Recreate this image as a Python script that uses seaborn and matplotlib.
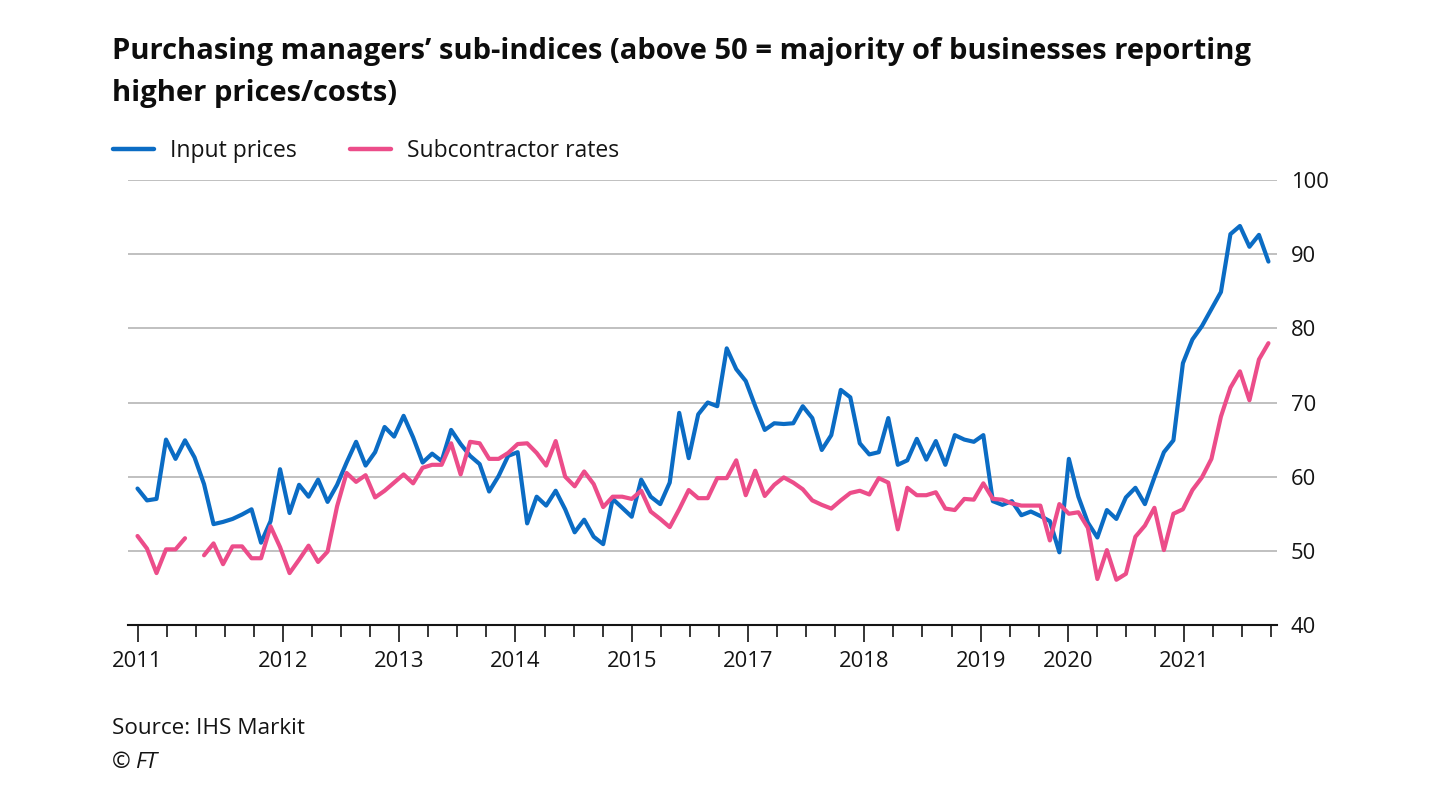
import numpy as np
import pandas as pd
import matplotlib
matplotlib.use("Agg")
import matplotlib.pyplot as plt
import seaborn as sns

# monthly readings, Jan 2011 onwards (index = month number)
input_prices = [
    58.4, 56.8, 57.0, 65.0, 62.4, 64.9, 62.6, 59.0, 53.6, 53.9,
    54.3, 54.9, 55.6, 51.1, 54.0, 61.0, 55.1, 58.9, 57.3, 59.6,
    56.6, 58.9, 61.9, 64.7, 61.5, 63.3, 66.7, 65.4, 68.2, 65.3,
    61.9, 63.1, 62.1, 66.3, 64.4, 62.8, 61.7, 58.0, 60.1, 62.8,
    63.3, 53.7, 57.3, 56.1, 58.1, 55.6, 52.5, 54.2, 51.9, 50.9,
    57.0, 55.8, 54.6, 59.6, 57.3, 56.3, 59.2, 68.6, 62.5, 68.4,
    70.0, 69.5, 77.3, 74.5, 72.9, 69.5, 66.3, 67.2, 67.1, 67.2,
    69.5, 67.9, 63.6, 65.6, 71.7, 70.7, 64.5, 63.0, 63.3, 67.9,
    61.6, 62.2, 65.1, 62.3, 64.8, 61.6, 65.6, 65.0, 64.7, 65.6,
    56.7, 56.2, 56.7, 54.8, 55.3, 54.7, 54.0, 49.8, 62.4, 57.3,
    53.8, 51.8, 55.5, 54.3, 57.2, 58.5, 56.3, 59.9, 63.3, 64.9,
    75.3, 78.5, 80.3, 82.6, 84.9, 92.7, 93.8, 91.0, 92.6, 89.0,
]
subcontractor_rates = [
    52.0, 50.3, 47.0, 50.2, 50.2, 51.7, np.nan, 49.4, 51.0, 48.2,
    50.6, 50.6, 49.0, 49.0, 53.3, 50.5, 47.0, 48.8, 50.7, 48.5,
    49.9, 56.0, 60.5, 59.3, 60.2, 57.2, 58.1, 59.2, 60.3, 59.1,
    61.2, 61.6, 61.6, 64.5, 60.3, 64.7, 64.5, 62.4, 62.4, 63.2,
    64.4, 64.5, 63.2, 61.5, 64.8, 60.0, 58.7, 60.7, 59.0, 55.9,
    57.3, 57.3, 57.0, 58.1, 55.3, 54.3, 53.2, 55.6, 58.2, 57.1,
    57.1, 59.8, 59.8, 62.2, 57.5, 60.8, 57.4, 58.9, 59.9, 59.2,
    58.3, 56.8, 56.2, 55.7, 56.8, 57.8, 58.1, 57.6, 59.8, 59.2,
    52.9, 58.5, 57.5, 57.5, 57.9, 55.7, 55.5, 57.0, 56.9, 59.1,
    57.0, 56.9, 56.4, 56.1, 56.1, 56.1, 51.4, 56.3, 55.0, 55.2,
    53.1, 46.2, 50.1, 46.1, 46.9, 51.9, 53.4, 55.8, 50.1, 55.0,
    55.6, 58.2, 59.9, 62.4, 68.1, 72.0, 74.2, 70.3, 75.8, 78.0,
]
# quarterly ticks along the axis, only some carry a year label
tick_labels = ["2011", "", "", "", "", "2012", "", "", "", "2013",
               "", "", "", "2014", "", "", "", "2015", "", "",
               "", "2017", "", "", "", "2018", "", "", "", "2019",
               "", "", "2020", "", "", "", "2021", "", "", ""]
y_ticks = [40, 50, 60, 70, 80, 90, 100]

blue = "#0b6cc4"
pink = "#ec4d8a"
ink = "#141414"

month = np.arange(len(input_prices))
df = pd.DataFrame({"month": month, "Input prices": input_prices,
                   "Subcontractor rates": subcontractor_rates})
long = df.melt(id_vars="month", var_name="series", value_name="value")
# break the line wherever a value is missing
long["seg"] = long.groupby("series")["value"].transform(lambda s: s.isna().cumsum())
long = long.dropna()

sns.set_theme(style="white")
plt.rcParams["font.family"] = ["Open Sans", "DejaVu Sans"]

fig = plt.figure(figsize=(14.4, 8.09), dpi=100)
ax = fig.add_axes([128 / 1440, 1 - 625 / 809, (1277 - 128) / 1440, (625 - 180) / 809])

sns.lineplot(data=long, x="month", y="value", hue="series", units="seg",
             estimator=None, palette={"Input prices": blue, "Subcontractor rates": pink},
             linewidth=3.0, ax=ax, legend=False)

ax.set_xlim(-1.0, 119.9)
ax.set_ylim(40, 100)

step = 119.3 / (len(tick_labels) - 1)
tick_pos = np.arange(len(tick_labels)) * step
major = [p for p, l in zip(tick_pos, tick_labels) if l]
minor = [p for p, l in zip(tick_pos, tick_labels) if not l]
ax.set_xticks(major)
ax.set_xticklabels([l for l in tick_labels if l], fontsize=15.8, color=ink)
ax.set_xticks(minor, minor=True)
ax.tick_params(axis="x", which="major", direction="out", length=12, width=1.2,
               color=ink, pad=7, bottom=True)
ax.tick_params(axis="x", which="minor", direction="out", length=8.5, width=1.2,
               color=ink, bottom=True)

ax.yaxis.tick_right()
ax.set_yticks(y_ticks)
ax.set_yticklabels([str(v) for v in y_ticks], fontsize=15.8, color=ink)
ax.tick_params(axis="y", length=0, pad=10)
for v in y_ticks[1:]:
    ax.axhline(v, color="#b5b5b5", linewidth=1.2, zorder=0)

for s in ["top", "left", "right"]:
    ax.spines[s].set_visible(False)
ax.spines["bottom"].set_color(ink)
ax.spines["bottom"].set_linewidth(1.5)
ax.set_xlabel("")
ax.set_ylabel("")

fig.text(112 / 1440, 1 - 51 / 809,
         "Purchasing managers\u2019 sub-indices (above 50 = majority of businesses reporting",
         fontsize=21, fontweight="bold", va="center", color="#0d0d0d")
fig.text(112 / 1440, 1 - 93 / 809, "higher prices/costs)",
         fontsize=21, fontweight="bold", va="center", color="#0d0d0d")

handles = [plt.Line2D([], [], color=blue, linewidth=3.2),
           plt.Line2D([], [], color=pink, linewidth=3.2)]
fig.legend(handles, ["Input prices", "Subcontractor rates"], ncol=2, frameon=False,
           loc="center left", bbox_to_anchor=(113 / 1440, 1 - 151 / 809),
           fontsize=16.5, handlelength=1.8, handletextpad=0.7, columnspacing=2.3,
           borderpad=0, borderaxespad=0, labelcolor=ink)

fig.text(112 / 1440, 1 - 729 / 809, "Source: IHS Markit", fontsize=16.2,
         va="center", color=ink)
fig.text(112 / 1440, 1 - 763 / 809, "\u00a9 ", fontsize=16.2, va="center", color=ink)
fig.text(135 / 1440, 1 - 763 / 809, "FT", fontsize=16.2, style="italic",
         va="center", color=ink)

plt.savefig("out.png", dpi=100, facecolor="white")
